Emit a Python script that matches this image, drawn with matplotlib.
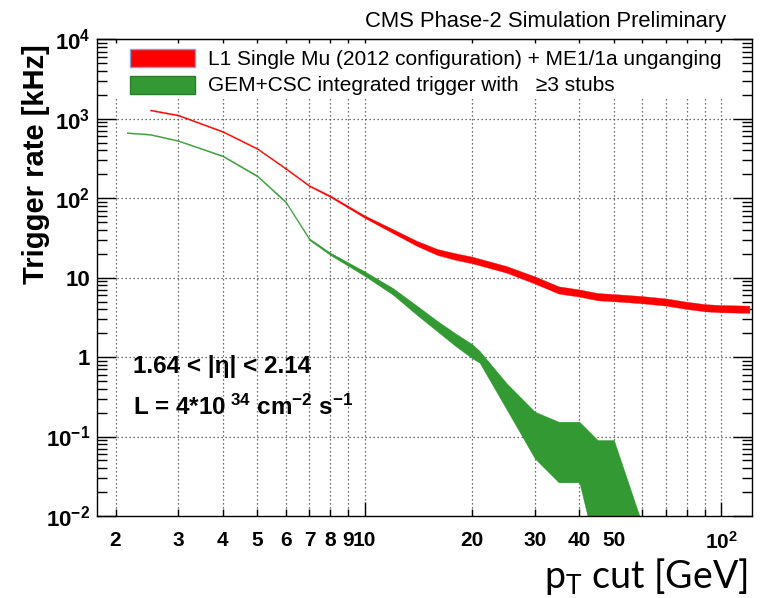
import matplotlib
matplotlib.use('Agg')
import matplotlib.pyplot as plt
from matplotlib.patches import Rectangle
from matplotlib.ticker import LogLocator, NullFormatter

# ---------------- data ----------------
red_pt = [2.5, 3, 4, 5, 6, 7, 8, 10, 12, 14, 16, 18, 20, 25, 30, 35, 40, 45, 50,
          60, 70, 80, 90, 100, 120]
red_rate = [1290, 1110, 690, 420, 237, 143, 106, 58.5, 38.5, 27, 21, 18.4, 16.7,
            12.7, 9.34, 7.0, 6.4, 5.76, 5.6, 5.28, 4.93, 4.48, 4.18, 4.07, 4.0]
red_relerr = [0.018, 0.018, 0.018, 0.018, 0.02, 0.02, 0.025, 0.035, 0.06, 0.075,
              0.09, 0.10, 0.10, 0.10, 0.11, 0.11, 0.11, 0.11, 0.11, 0.11, 0.11,
              0.11, 0.11, 0.11, 0.11]

green_pt = [2.15, 2.5, 3, 4, 5, 6, 7, 8, 10, 12, 14, 16, 18, 20, 21, 25, 30, 35,
            40, 45, 50, 60]
green_lo = [658, 627, 522, 334, 186, 88, 29.6, 19.3, 10.5, 6.1, 3.4, 2.1, 1.37,
            0.97, 0.85, 0.22, 0.053, 0.0265, 0.0265, 0.003, 0.003, 0.001]
green_hi = [678, 647, 538, 346, 194, 92, 31.2, 20.7, 12.0, 7.4, 4.45, 2.85, 1.98,
            1.46, 1.2, 0.47, 0.206, 0.154, 0.154, 0.0906, 0.0906, 0.008]

x_major = [10, 100]
x_major_labels = ['10', r'$\mathbf{10^{2}}$']
x_minor = [2, 3, 4, 5, 6, 7, 8, 9, 20, 30, 40, 50, 60, 70, 80, 90]
x_minor_labels = ['2', '3', '4', '5', '6', '7', '8', '9', '20', '30', '40', '50',
                  '', '', '', '']
y_major = [1e-2, 1e-1, 1, 10, 1e2, 1e3, 1e4]
y_major_labels = [r'$\mathbf{10^{-2}}$', r'$\mathbf{10^{-1}}$', '1', '10',
                  r'$\mathbf{10^{2}}$', r'$\mathbf{10^{3}}$', r'$\mathbf{10^{4}}$']
grid_x = [2, 3, 4, 5, 6, 7, 8, 9, 10, 20, 30, 40, 50, 60, 70, 80, 90, 100]
grid_y = [1e-1, 1, 10, 1e2, 1e3]

label_red = 'L1 Single Mu (2012 configuration) + ME1/1a unganging'
label_green = 'GEM+CSC integrated trigger with   \u22653 stubs'

# ---------------- style ----------------
plt.rcParams['font.family'] = ['Liberation Sans', 'DejaVu Sans']
plt.rcParams['mathtext.fontset'] = 'custom'
plt.rcParams['mathtext.rm'] = 'Lato'
plt.rcParams['mathtext.bf'] = 'Liberation Sans:bold'
plt.rcParams['mathtext.it'] = 'Liberation Sans:italic'

W, H = 765, 598
fig = plt.figure(figsize=(W / 100, H / 100), dpi=100)
L, R, T, B = 97.3, 751.7, 39.3, 516.0
ax = fig.add_axes([L / W, 1 - B / H, (R - L) / W, (B - T) / H])
ax.set_xscale('log')
ax.set_yscale('log')
ax.set_xlim(1.778, 121.8)
ax.set_ylim(1e-2, 1e4)

# grid (vertical lines stop under the legend area)
for gx in grid_x:
    ax.axvline(gx, ymin=0, ymax=0.877, color='#444444', lw=0.9,
               ls=(0, (1, 2.2)), zorder=0.6)
for gy in grid_y:
    ax.axhline(gy, color='#444444', lw=0.9, ls=(0, (1, 2.2)), zorder=0.6)

# bands
red_lo = [c / (1 + e) for c, e in zip(red_rate, red_relerr)]
red_hi = [c * (1 + e) for c, e in zip(red_rate, red_relerr)]
ax.fill_between(red_pt, red_lo, red_hi, facecolor='#ff0000', edgecolor='#ff0000',
                lw=0.25, zorder=2)
ax.fill_between(green_pt, green_lo, green_hi, facecolor='#339933',
                edgecolor='#339933', lw=0.25, zorder=2)

# ticks
ax.set_xticks(x_major)
ax.set_xticklabels(x_major_labels)
ax.set_xticks(x_minor, minor=True)
ax.set_xticklabels(x_minor_labels, minor=True)
ax.set_yticks(y_major)
ax.set_yticklabels(y_major_labels)
ax.yaxis.set_minor_locator(LogLocator(base=10, subs=range(2, 10), numticks=50))
ax.yaxis.set_minor_formatter(NullFormatter())

ax.tick_params(axis='both', which='both', direction='in', right=True, top=False,
               width=1.0, color='black')
ax.tick_params(axis='x', which='major', length=10, pad=11)
ax.tick_params(axis='x', which='minor', length=5, pad=11)
ax.tick_params(axis='y', which='major', length=14, pad=5)
ax.tick_params(axis='y', which='minor', length=7)
for lab in ax.get_xticklabels(which='both'):
    lab.set_fontsize(15)
    lab.set_fontweight('bold')
for lab in ax.get_yticklabels():
    lab.set_fontsize(16)
    lab.set_fontweight('bold')

sec = ax.secondary_xaxis('top')
sec.tick_params(which='both', direction='in', length=3, labeltop=False, width=1.0)
for s in ax.spines.values():
    s.set_linewidth(1.0)

# legend (manual)
fig.add_artist(Rectangle((130 / W, 1 - 67 / H), 65 / W, 18 / H,
                         transform=fig.transFigure, facecolor='#ff0000',
                         edgecolor='#7f9fdf', lw=1.0))
fig.add_artist(Rectangle((130 / W, 1 - 94 / H), 65 / W, 18 / H,
                         transform=fig.transFigure, facecolor='#339933',
                         edgecolor='#2a7f2a', lw=1.0))
fig.text(208 / W, 1 - 65 / H, label_red, fontsize=15, va='baseline', ha='left')
fig.text(208 / W, 1 - 91 / H, label_green, fontsize=15, va='baseline', ha='left')

# title
fig.text(726 / W, 1 - 27 / H, 'CMS Phase-2 Simulation Preliminary', fontsize=15.8,
         ha='right', va='baseline')

# annotations
fig.text(133 / W, 1 - 373 / H, '1.64 < |\u03b7| < 2.14', fontsize=17.5,
         fontweight='bold', va='baseline')
fig.text(133 / W, 1 - 415 / H,
         r'L = 4*10$^{\mathbf{\ 34}}$ cm$^{\mathbf{-2}}$ s$^{\mathbf{-1}}$',
         fontsize=17.5, fontweight='bold', va='baseline')

# axis titles
fig.text(36 / W, 1 - 44 / H, 'Trigger rate [kHz]', rotation=90, ha='center',
         va='top', fontsize=21, fontweight='bold')
fig.text(748 / W, 1 - 588 / H, r'p$_{\mathrm{T}}$ cut [GeV]', family='Lato',
         fontsize=27, ha='right', va='baseline')

fig.savefig('out.png', dpi=100)
